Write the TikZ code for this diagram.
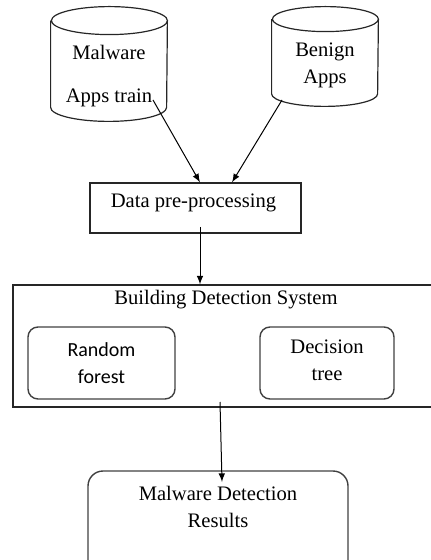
\documentclass[tikz,border=0pt]{standalone}
\usepackage{fontspec}
\setmainfont{Liberation Serif}
\newfontfamily\calibrifont{Carlito}
\usetikzlibrary{arrows,shapes,positioning}

\begin{document}
\begin{tikzpicture}[x=0.5pt,y=-0.5pt,font=\fontsize{10.3}{13.5}\selectfont]
        \tikzstyle{db}=[rectangle, inner sep=0pt]
        \tikzstyle{dbline}=[draw=black!85, line width=0.6pt]
        \tikzstyle{stage}=[rectangle, draw=black!85, line width=0.6pt, inner sep=0pt]
        \tikzstyle{algo}=[rectangle, rounded corners=5pt, draw=black!75, line width=0.7pt, inner sep=0pt]
        \tikzstyle{connect}=[-latex, line width=0.5pt]
        \path[use as bounding box, clip] (0,0) rectangle (431,560);
        \node[db, minimum width=58pt, minimum height=57pt] (malware) at (109,64)
          [label={[align=center, yshift=-6.25pt]center:Malware\\[8pt]Apps train}] {};
        \node[db, minimum width=53pt, minimum height=49.5pt] (benign) at (325,56.5)
          [label={[align=center, yshift=-4.5pt]center:Benign\\Apps}] {};
        % cylinder outlines
        \draw[dbline] ([yshift=-7pt]malware.north west) -- ([yshift=7pt]malware.south west)
          arc[start angle=180, end angle=360, x radius=29pt, y radius=7pt]
          -- ([yshift=-7pt]malware.north east)
          arc[start angle=0, end angle=360, x radius=29pt, y radius=7pt];
        \draw[dbline] ([yshift=-6.25pt]benign.north west) -- ([yshift=6.25pt]benign.south west)
          arc[start angle=180, end angle=360, x radius=26.5pt, y radius=6.25pt]
          -- ([yshift=-6.25pt]benign.north east)
          arc[start angle=0, end angle=360, x radius=26.5pt, y radius=6.25pt];
        \node[stage, minimum width=105.5pt, minimum height=25pt] (prep) at (195.5,208)
          [label={[yshift=2.5pt, xshift=-1pt]center:Data pre-processing}] {};
        \node[stage, minimum width=216pt, minimum height=61pt] (build) at (229,346)
          [label={[yshift=23pt, xshift=-1.5pt]center:Building Detection System}] {};
        \node[algo, minimum width=73.5pt, minimum height=36pt] (rf) at (101.5,363)
          [label={[align=center, font=\calibrifont\fontsize{10}{13.5}\selectfont]center:Random\\forest}] {};
        \node[algo, minimum width=67pt, minimum height=36pt] (dt) at (327,363)
          [label={[align=center, yshift=1.5pt]center:Decision\\tree}] {};
        \node[algo, rounded corners=7.5pt, minimum width=130pt, minimum height=59.5pt] (result) at (218,530.5)
          [label={[align=center, yshift=12pt]center:Malware Detection\\Results}] {};
        % free ends of the connectors
        \coordinate (malware-out) at (153,100);
        \coordinate (benign-out) at (282,100);
        \coordinate (prep-out) at (200,227);
        \coordinate (build-out) at (220,402);
        \coordinate (result-in) at (222,482);
        \path (malware-out) edge [connect] (prep.north -| 200,0)
        (benign-out) edge [connect] (prep.north -| 232,0)
        (prep-out) edge [connect] (build.north -| prep-out)
        (build-out) edge [connect] (result-in);
\end{tikzpicture}
\end{document}
